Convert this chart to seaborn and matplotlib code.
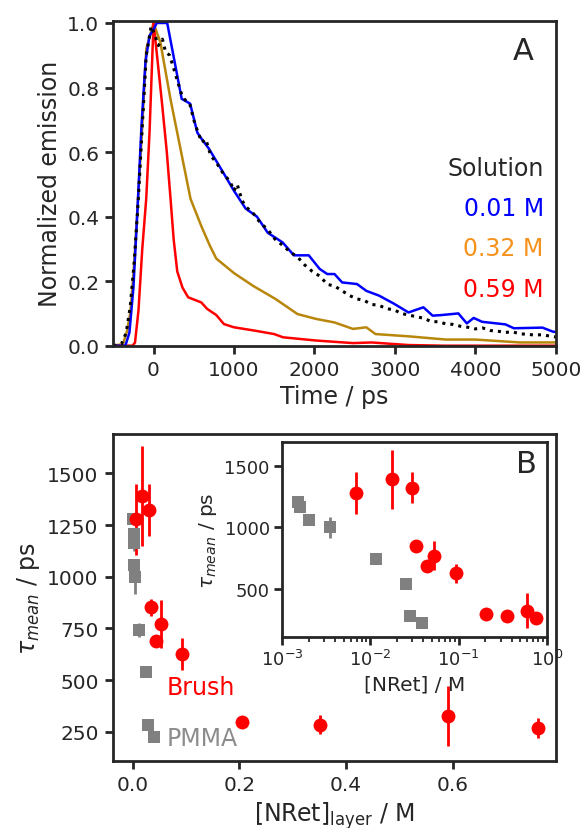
import matplotlib
matplotlib.use("Agg")
import matplotlib.pyplot as plt
import seaborn as sns
import numpy as np

# panel A: normalized emission decays
t_blue = [-500, -350, -300, -250, -200, -150, -100, -50, 0, 40, 170, 350, 455, 545, 600, 690,
          870, 1000, 1145, 1285, 1420, 1605, 1745, 1930, 2065, 2160, 2250, 2345, 2530, 2645,
          2805, 2990, 3170, 3355, 3470, 3585, 3790, 3895, 3980, 4085, 4375, 4480, 4835, 4960, 5000]
v_blue = [0, 0, 0.04, 0.18, 0.42, 0.68, 0.88, 0.96, 0.98, 1.0, 1.0, 0.765, 0.75, 0.66, 0.64, 0.61,
          0.535, 0.48, 0.425, 0.40, 0.35, 0.32, 0.28, 0.28, 0.238, 0.222, 0.222, 0.196, 0.191, 0.17,
          0.155, 0.13, 0.103, 0.119, 0.093, 0.095, 0.10, 0.069, 0.086, 0.074, 0.066, 0.054, 0.056, 0.044, 0.042]

t_gold = [-500, -380, -330, -290, -250, -200, -140, -90, 0, 85, 210, 335, 460, 595, 700, 780, 1000,
          1240, 1515, 1790, 2020, 2250, 2480, 2645, 2760, 3170, 3635, 4000, 4555, 5000]
v_gold = [0, 0.005, 0.045, 0.1, 0.22, 0.42, 0.68, 0.92, 1.0, 0.94, 0.765, 0.61, 0.455, 0.37, 0.31, 0.27, 0.225,
          0.185, 0.145, 0.098, 0.083, 0.072, 0.052, 0.057, 0.036, 0.029, 0.019, 0.019, 0.01, 0.01]

t_red = [-500, -260, -230, -187, -140, -91, -50, 0, 60, 110, 165, 210, 250, 295, 360, 430, 594, 667,
         780, 875, 1000, 1250, 1500, 1610, 2020, 2480, 2710, 3170, 3600, 5000]
v_red = [0, 0, 0.01, 0.11, 0.3, 0.455, 0.66, 1.0, 0.86, 0.74, 0.6, 0.46, 0.33, 0.23, 0.18, 0.15, 0.134, 0.114,
         0.095, 0.067, 0.057, 0.047, 0.036, 0.026, 0.016, 0.008, 0.01, 0.002, 0, 0]

t_dot = [-500, -400, -340, -290, -240, -190, -140, -90, -30, 20, 60, 110, 150, 200, 250, 310, 360, 400,
         450, 500, 540, 600, 650, 710, 800, 875, 950, 1000, 1040, 1100, 1150, 1240, 1330, 1420, 1510,
         1610, 1700, 1790, 1880, 1975, 2070, 2160, 2250, 2345, 2440, 2530, 2620, 2710, 2800, 2900,
         3000, 3080, 3170, 3265, 3360, 3450, 3540, 3630, 3720, 3820, 3910, 4000, 4090, 4185, 4280,
         4370, 4460, 4555, 4650, 4740, 4830, 4920, 5000]
v_dot = [0, 0.005, 0.04, 0.12, 0.26, 0.45, 0.68, 0.9, 0.99, 0.96, 0.93, 0.95, 0.91, 0.9, 0.86, 0.81, 0.77, 0.76,
         0.75, 0.7, 0.67, 0.63, 0.64, 0.59, 0.56, 0.53, 0.51, 0.48, 0.5, 0.45, 0.43, 0.41, 0.38, 0.36, 0.33,
         0.31, 0.29, 0.275, 0.25, 0.23, 0.215, 0.19, 0.185, 0.17, 0.155, 0.145, 0.14, 0.128, 0.125, 0.115,
         0.11, 0.1, 0.095, 0.09, 0.085, 0.075, 0.074, 0.068, 0.066, 0.06, 0.057, 0.052, 0.055, 0.047, 0.045,
         0.041, 0.043, 0.037, 0.035, 0.033, 0.034, 0.03, 0.027]

# panel B: mean lifetimes
conc_brush = [0.0069, 0.0178, 0.030, 0.0333, 0.044, 0.053, 0.093, 0.205, 0.352, 0.592, 0.76]
tau_brush = [1277, 1390, 1322, 852, 690, 772, 627, 298, 285, 326, 270]
err_brush = [170, 240, 125, 40, 30, 115, 78, 10, 45, 143, 48]

conc_pmma = [0.0008, 0.0015, 0.0016, 0.002, 0.0035, 0.0117, 0.0255, 0.0278, 0.039]
tau_pmma = [1281, 1205, 1165, 1057, 1000, 742, 540, 285, 223]
err_pmma = [25, 30, 40, 20, 85, 35, 10, 10, 10]

sns.set_style("ticks")
plt.rcParams['font.family'] = ['DejaVu Sans']
plt.rcParams['axes.linewidth'] = 2

fig = plt.figure(figsize=(5.82, 8.29), dpi=100)

# ---- A
ax1 = fig.add_axes([0.1947, 0.5818, 0.7601, 0.392])
sns.lineplot(x=t_gold, y=v_gold, ax=ax1, color='#b8860b', lw=1.8)
sns.lineplot(x=t_red, y=v_red, ax=ax1, color='#ff0000', lw=1.8)
sns.lineplot(x=t_blue, y=v_blue, ax=ax1, color='#0000ff', lw=1.8)
sns.lineplot(x=t_dot, y=v_dot, ax=ax1, color='black', lw=2.2, linestyle=':')
ax1.set_xlim(-500, 5000)
ax1.set_ylim(0, 1.007)
ax1.set_xticks([0, 1000, 2000, 3000, 4000, 5000])
ax1.set_yticks([0.0, 0.2, 0.4, 0.6, 0.8, 1.0])
ax1.set_xlabel('Time / ps', fontsize=17)
ax1.set_ylabel('Normalized emission', fontsize=17)
ax1.text(0.926, 0.908, 'A', transform=ax1.transAxes, fontsize=22, ha='center', va='center')
ax1.text(0.973, 0.548, 'Solution', transform=ax1.transAxes, fontsize=17, ha='right', va='center')
ax1.text(0.973, 0.424, '0.01 M', transform=ax1.transAxes, fontsize=17, ha='right', va='center', color='#0000ff')
ax1.text(0.973, 0.300, '0.32 M', transform=ax1.transAxes, fontsize=17, ha='right', va='center', color='#f5921b')
ax1.text(0.973, 0.173, '0.59 M', transform=ax1.transAxes, fontsize=17, ha='right', va='center', color='#ff0000')

# ---- B
ax2 = fig.add_axes([0.1933, 0.0812, 0.762, 0.394])
axin = fig.add_axes([0.485, 0.2308, 0.4543, 0.2345])

for ax, ms_c, ms_s in [(ax2, 100, 75), (axin, 100, 75)]:
    ax.errorbar(conc_pmma, tau_pmma, yerr=err_pmma, fmt='none', ecolor='#808080', elinewidth=2, capsize=0)
    ax.errorbar(conc_brush, tau_brush, yerr=err_brush, fmt='none', ecolor='#ff0000', elinewidth=2, capsize=0)
    sns.scatterplot(x=conc_pmma, y=tau_pmma, ax=ax, marker='s', s=ms_s, color='#808080', linewidth=0, zorder=3)
    sns.scatterplot(x=conc_brush, y=tau_brush, ax=ax, marker='o', s=ms_c, color='#ff0000', linewidth=0, zorder=3)

ax2.set_xlim(-0.038, 0.794)
ax2.set_ylim(110, 1690)
ax2.set_xticks([0.0, 0.2, 0.4, 0.6])
ax2.set_yticks([250, 500, 750, 1000, 1250, 1500])
ax2.set_xlabel('[NRet]$_\\mathrm{layer}$ / M', fontsize=17)
ax2.set_ylabel('$\\tau_{mean}$ / ps', fontsize=17)
ax2.text(0.064, 465, 'Brush', fontsize=17, color='#ff0000', ha='left', va='center')
ax2.text(0.064, 222, 'PMMA', fontsize=17, color='#8c8c8c', ha='left', va='center')

axin.set_xscale('log')
axin.set_xlim(1e-3, 1)
axin.set_ylim(115, 1690)
axin.set_yticks([500, 1000, 1500])
axin.set_xlabel('[NRet] / M', fontsize=14.5)
axin.set_ylabel('$\\tau_{mean}$ / ps', fontsize=14.5)
axin.text(0.924, 0.893, 'B', transform=axin.transAxes, fontsize=22, ha='center', va='center')

for ax in [ax1, ax2]:
    ax.tick_params(which='major', direction='out', length=6, width=2, labelsize=14.5, pad=4)
axin.tick_params(which='major', direction='out', length=6, width=2, labelsize=13, pad=3)
axin.tick_params(which='minor', direction='out', length=3.5, width=1.3)

for ax in [ax1, ax2, axin]:
    for sp in ax.spines.values():
        sp.set_visible(True)
        sp.set_linewidth(2)

fig.savefig('out.png', dpi=100)
